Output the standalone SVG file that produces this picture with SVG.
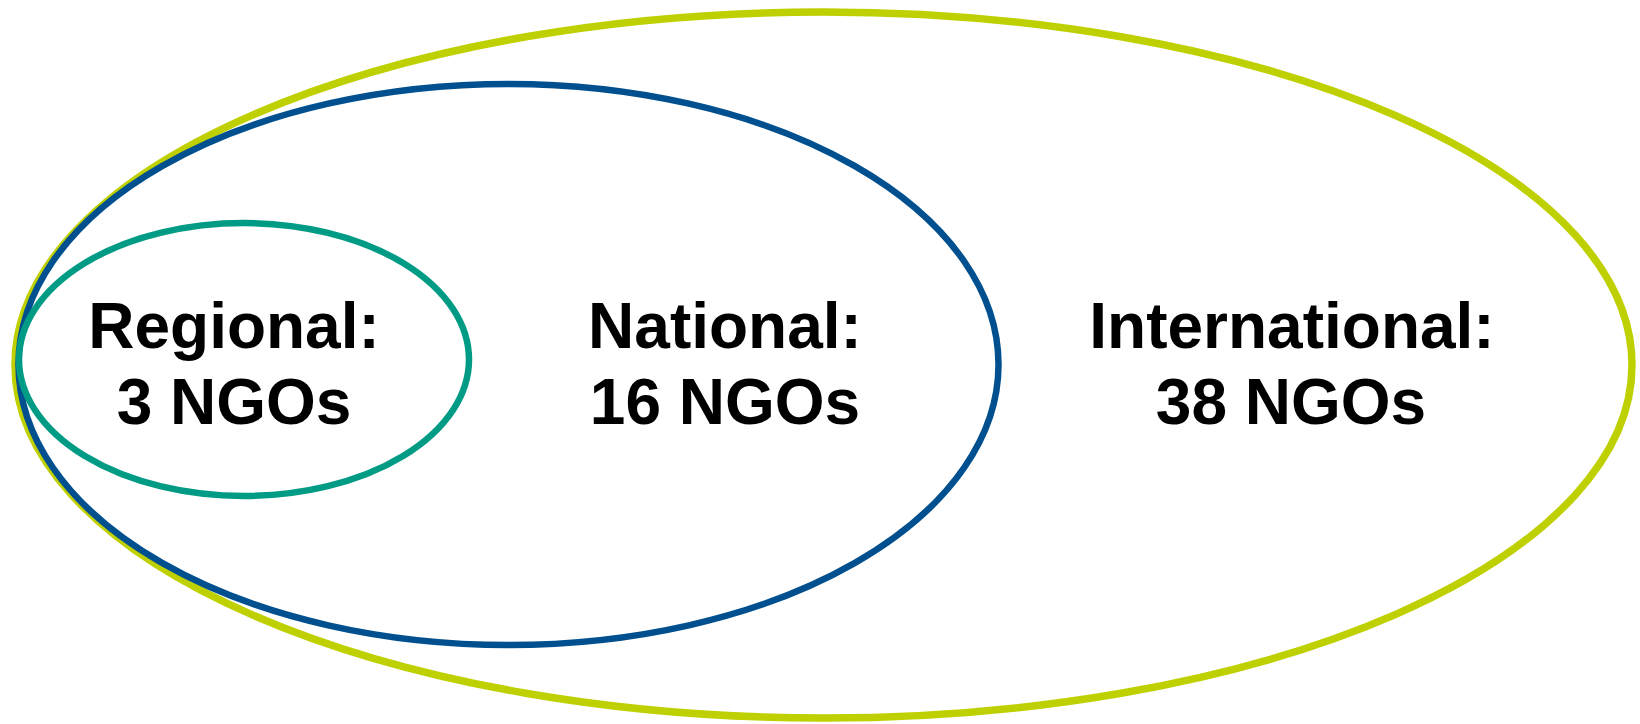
<svg xmlns="http://www.w3.org/2000/svg" width="1640" height="724" viewBox="0 0 1640 724">
<style>
.e{fill:none}
.t{font-family:"Liberation Sans",Arial,sans-serif;font-weight:bold;font-size:64px;fill:#000;text-anchor:middle}
</style>
<rect width="1640" height="724" fill="#fff"/>
<g id="international">
<ellipse class="e" cx="823.5" cy="365" rx="808.5" ry="353" stroke="#BFD000" stroke-width="7.5"/>
<text class="t" x="1292" y="348">International:</text>
<text class="t" x="1291" y="424">38 NGOs</text>
</g>
<g id="national">
<ellipse class="e" cx="508.5" cy="364.5" rx="490" ry="280.5" stroke="#00508F" stroke-width="6.5"/>
<text class="t" x="725" y="348">National:</text>
<text class="t" x="725" y="424">16 NGOs</text>
</g>
<g id="regional">
<ellipse class="e" cx="244" cy="359.5" rx="225" ry="136.5" stroke="#009B85" stroke-width="6.5"/>
<text class="t" x="234" y="348">Regional:</text>
<text class="t" x="234" y="424">3 NGOs</text>
</g>
<g id="connectors"/>
</svg>
